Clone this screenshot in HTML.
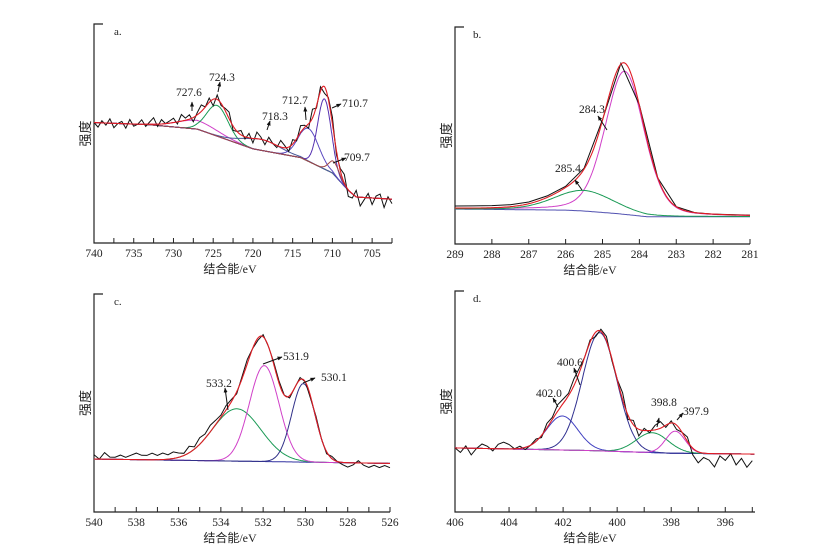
<!DOCTYPE html>
<html><head><meta charset="utf-8">
<style>
html,body{margin:0;padding:0;background:#fff;}
svg{display:block;}
text{font-family:"Liberation Serif","Noto Serif CJK SC",serif;fill:#222;}
.cjk{font-family:"Liberation Serif","Noto Sans CJK SC",sans-serif;}
</style></head>
<body>
<svg id="chart" width="823" height="552" viewBox="0 0 823 552" xmlns="http://www.w3.org/2000/svg">
<defs>
<marker id="ah" viewBox="0 0 10 10" refX="9" refY="5" markerWidth="5" markerHeight="5" orient="auto"><path d="M0,1 L10,5 L0,9 z" fill="#111"/></marker>
</defs>
</svg>
<script>
// ---------- DATA ----------
// Panel a: Fe 2p
const bgA_E = [740, 733, 727, 720, 714, 710, 708, 707, 702.5];
const bgA_V = [55, 54, 52, 43, 39, 32, 24, 21, 20];
const pkA_labels = ["727.6", "724.3", "718.3", "712.7", "710.7", "709.7"];
const pkA_center = [727.0, 724.5, 719.0, 713.0, 711.0, 709.8];
const pkA_height = [4, 14, 5, 15, 32, 5.8];
const pkA_fwhm = [6, 3.2, 5.5, 3.0, 2.0, 1.6];
const resA = [0,-2,1,-1,2,-2,0,1,-2,2,-1,0,2,-1,1,3,-1,2,0,1,2,-1,3,1,2,-2,1,3,0,2,-3,2,-1,1,3,-2,0,2,-1,2,-2,3,1,-2,2,0,-1,3,1,-2,2,-1,3,1,-2,4,-1,2,-3,1,3,-2,1,4,-3,-2,3,-4,-1,2,-3,1,2,-4,1,-2];

// Panel b: C 1s
const bgB_E = [289, 286, 285.5, 284.6, 283.8, 281];
const bgB_V = [16.1, 15.6, 15.2, 14.0, 12.6, 12.6];
const pkB_labels = ["284.3", "285.4"];
const pkB_center = [284.4, 285.5];
const pkB_height = [66, 9.5];
const pkB_fwhm = [1.25, 1.9];
const pkB_mix = [0.25, 0.2];
const resB = [1.0,1.0,1.0,0.9,0.8,0.7,0.5,0.4,0.3,0.3,0.2,0,0,0,0,0.1,0.1];

// Panel c: O 1s
const bgC_E = [540, 526];
const bgC_V = [24.3, 22.3];
const pkC_labels = ["533.2", "531.9", "530.1"];
const pkC_center = [533.25, 531.95, 530.1];
const pkC_height = [24, 44, 36];
const pkC_fwhm = [2.7, 1.65, 1.3];
const resC = [2,0,3,1,1,2,1,2,3,2,2,3,2,3,2,3,2,1,3,1,3,2,3,2,1,2,1,-1,1,2,0,-1,1,0,1,1,0,-1,0,1,0,-1,1,0,-1,1,0,-1,-2,-1,1,-1,-2,-1,-2,-1,-2];

// Panel d: N 1s
const bgD_E = [406, 401, 398, 394.9];
const bgD_V = [29, 27.8, 26.6, 26.2];
const pkD_labels = ["402.0", "400.6", "398.8", "397.9"];
const pkD_center = [402.03, 400.65, 398.7, 397.85];
const pkD_height = [15.4, 53.5, 9, 10];
const pkD_fwhm = [1.35, 1.5, 1.4, 0.85];
const resD = [0,-2,1,-3,0,2,1,-1,2,3,2,0,1,-1,0,1,-1,2,1,3,2,1,3,2,0,1,-2,1,2,-1,0,3,-2,2,-3,1,-1,2,3,-1,1,-2,0,2,-3,-5,-2,-3,-6,-1,-3,0,-5,-2,-6,-3];

// ---------- RENDER ----------
const NS = "http://www.w3.org/2000/svg";
const svg = document.getElementById("chart");
function mk(tag, attrs, parent){const e=document.createElementNS(NS,tag);for(const k in attrs)e.setAttribute(k,attrs[k]);(parent||svg).appendChild(e);return e;}
function interp(E,V,e){ if(e>=E[0])return V[0]; for(let i=1;i<E.length;i++){ if(e>=E[i]){const t=(E[i-1]-e)/(E[i-1]-E[i]);return V[i-1]+t*(V[i]-V[i-1]);} } return V[V.length-1];}
function pv(e,c,h,f,m){const d=(e-c)/f;return h*((1-m)*Math.exp(-4*Math.LN2*d*d)+m/(1+4*d*d));}

function panel(cfg){
  const g = mk("g",{});
  
  
  const xs = e => cfg.left + (cfg.e0 - e)/(cfg.e0 - cfg.e1)*(cfg.right-cfg.left);
  const ys = v => cfg.bottom - v/100*(cfg.bottom-cfg.top);
  const bg = e => interp(cfg.bgE, cfg.bgV, e);
  const mixOf = i => cfg.mix ? cfg.mix[i] : 0;
  const env = e => { let s=bg(e); for(let i=0;i<cfg.c.length;i++) s+=pv(e,cfg.c[i],cfg.h[i],cfg.f[i],mixOf(i)); return s; };
  const step = 0.04;
  const path = fn => { let d=""; for(let e=cfg.e0; e>=cfg.e1-1e-9; e-=step){ d += (d?"L":"M")+xs(e).toFixed(1)+","+ys(fn(e)).toFixed(1); } return d; };
  const ax = mk("path",{d:`M${cfg.left+9},${cfg.top}H${cfg.left}V${cfg.bottom}H${cfg.right}`,fill:"none",stroke:"#222","stroke-width":1.2},g);
  
  
  for(let t=cfg.e0; t>=cfg.e1-1e-9; t-=cfg.minor){
    const x=xs(t);
    const tk = mk("line",{x1:x,x2:x,y1:cfg.bottom,y2:cfg.bottom-5,stroke:"#222","stroke-width":1},g);
    
    
  }
  for(const t of cfg.ticks){
    const tl = mk("text",{x:xs(t),y:cfg.bottom+14,"text-anchor":"middle","font-size":11.5},g);
    tl.textContent = t;
    
    
  }
  const xt = mk("text",{x:cfg.titleX,y:cfg.bottom+30,"text-anchor":"middle","font-size":12,class:"cjk"},g);
  xt.textContent = "结合能/eV";
  
  
  const yc = (cfg.top+cfg.bottom)/2;
  const yt = mk("text",{x:cfg.left-8,y:yc+4,"text-anchor":"middle","font-size":13,class:"cjk",transform:`rotate(-90 ${cfg.left-8} ${yc})`},g);
  yt.textContent = "强度";
  
  
  const pl = mk("text",{x:cfg.left+cfg.plx,y:cfg.top+cfg.ply,"font-size":11},g);
  pl.textContent = cfg.letter;
  
  
  const bl = mk("path",{d:path(bg),fill:"none",stroke:cfg.bgColor,"stroke-width":1},g);
  
  
  for(let i=0;i<cfg.c.length;i++){
    const p = mk("path",{d:path(e=>bg(e)+pv(e,cfg.c[i],cfg.h[i],cfg.f[i],mixOf(i))),fill:"none",stroke:cfg.colors[i],"stroke-width":1},g);
    
    
  }
  let d="";
  for(let i=0;i<cfg.res.length;i++){
    const e = cfg.e0 - i*cfg.rstep; if(e<cfg.e1-1e-9) break;
    d += (d?"L":"M")+xs(e).toFixed(1)+","+ys(env(e)+cfg.res[i]).toFixed(1);
  }
  const raw = mk("path",{d:d,fill:"none",stroke:"#111","stroke-width":1},g);
  
  
  const en = mk("path",{d:path(env),fill:"none",stroke:"#e01c24","stroke-width":1.1},g);
  
  
  for(const a of cfg.ann){
    const at = mk("text",{x:a[0],y:a[1]+4,"font-size":11.5},g);
    at.textContent = a[2];
    
    
    const ar = mk("line",{x1:a[3],y1:a[4],x2:a[5],y2:a[6],stroke:"#111","stroke-width":1,"marker-end":"url(#ah)"},g);
    
    
  }
}

panel({name:"panel-a-fe2p",letter:"a.",left:94,right:392,top:24,bottom:243,e0:740,e1:702.5,minor:2.5,ticks:[740,735,730,725,720,715,710,705],titleX:230,plx:20,ply:11,
  bgE:bgA_E,bgV:bgA_V,c:pkA_center,h:pkA_height,f:pkA_fwhm,labels:pkA_labels,res:resA,rstep:0.5,bgColor:"#7a3a3a",
  colors:["#d040c8","#1a9a55","#4a5a9a","#5a48c0","#5530b0","#a04848"],
  ann:[[176,92,"727.6",192,111,192,102],[209,77,"724.3",218,92,220,82],[262,116,"718.3",267,130,270,121],[282,100,"712.7",306,120,305,107],[342,103,"710.7",332,108,341,104],[344,157,"709.7",333,163,346,158]]});
panel({name:"panel-b-c1s",letter:"b.",left:455,right:750,top:27,bottom:244,e0:289,e1:281,minor:1,ticks:[289,288,287,286,285,284,283,282,281],titleX:590,plx:18,ply:11,
  bgE:bgB_E,bgV:bgB_V,c:pkB_center,h:pkB_height,f:pkB_fwhm,mix:pkB_mix,labels:pkB_labels,res:resB,rstep:0.5,bgColor:"#5050b0",
  colors:["#d040c8","#1a9a55"],
  ann:[[579,109,"284.3",607,130,598,116],[555,168,"285.4",582,190,575,180]]});
panel({name:"panel-c-o1s",letter:"c.",left:94,right:390,top:294,bottom:512,e0:540,e1:526,minor:1,ticks:[540,538,536,534,532,530,528,526],titleX:230,plx:20,ply:11,
  bgE:bgC_E,bgV:bgC_V,c:pkC_center,h:pkC_height,f:pkC_fwhm,labels:pkC_labels,res:resC,rstep:0.25,bgColor:"#3030a0",
  colors:["#1a9a55","#d040c8","#303088"],
  ann:[[206,383,"533.2",228,410,225,388],[283,356,"531.9",263,364,282,357],[321,377,"530.1",303,383,315,378]]});
panel({name:"panel-d-n1s",letter:"d.",left:455,right:755,top:291,bottom:512,e0:406,e1:394.9,minor:1,ticks:[406,404,402,400,398,396],titleX:590,plx:18,ply:11,
  bgE:bgD_E,bgV:bgD_V,c:pkD_center,h:pkD_height,f:pkD_fwhm,labels:pkD_labels,res:resD,rstep:0.2,bgColor:"#3030a0",
  colors:["#4040c0","#303090","#1a9a55","#d040c8"],
  ann:[[536,393,"402.0",558,407,553,398],[557,362,"400.6",580,385,574,368],[651,402,"398.8",657,427,659,418],[683,411,"397.9",677,420,683,413]]});
</script>
</body></html>
